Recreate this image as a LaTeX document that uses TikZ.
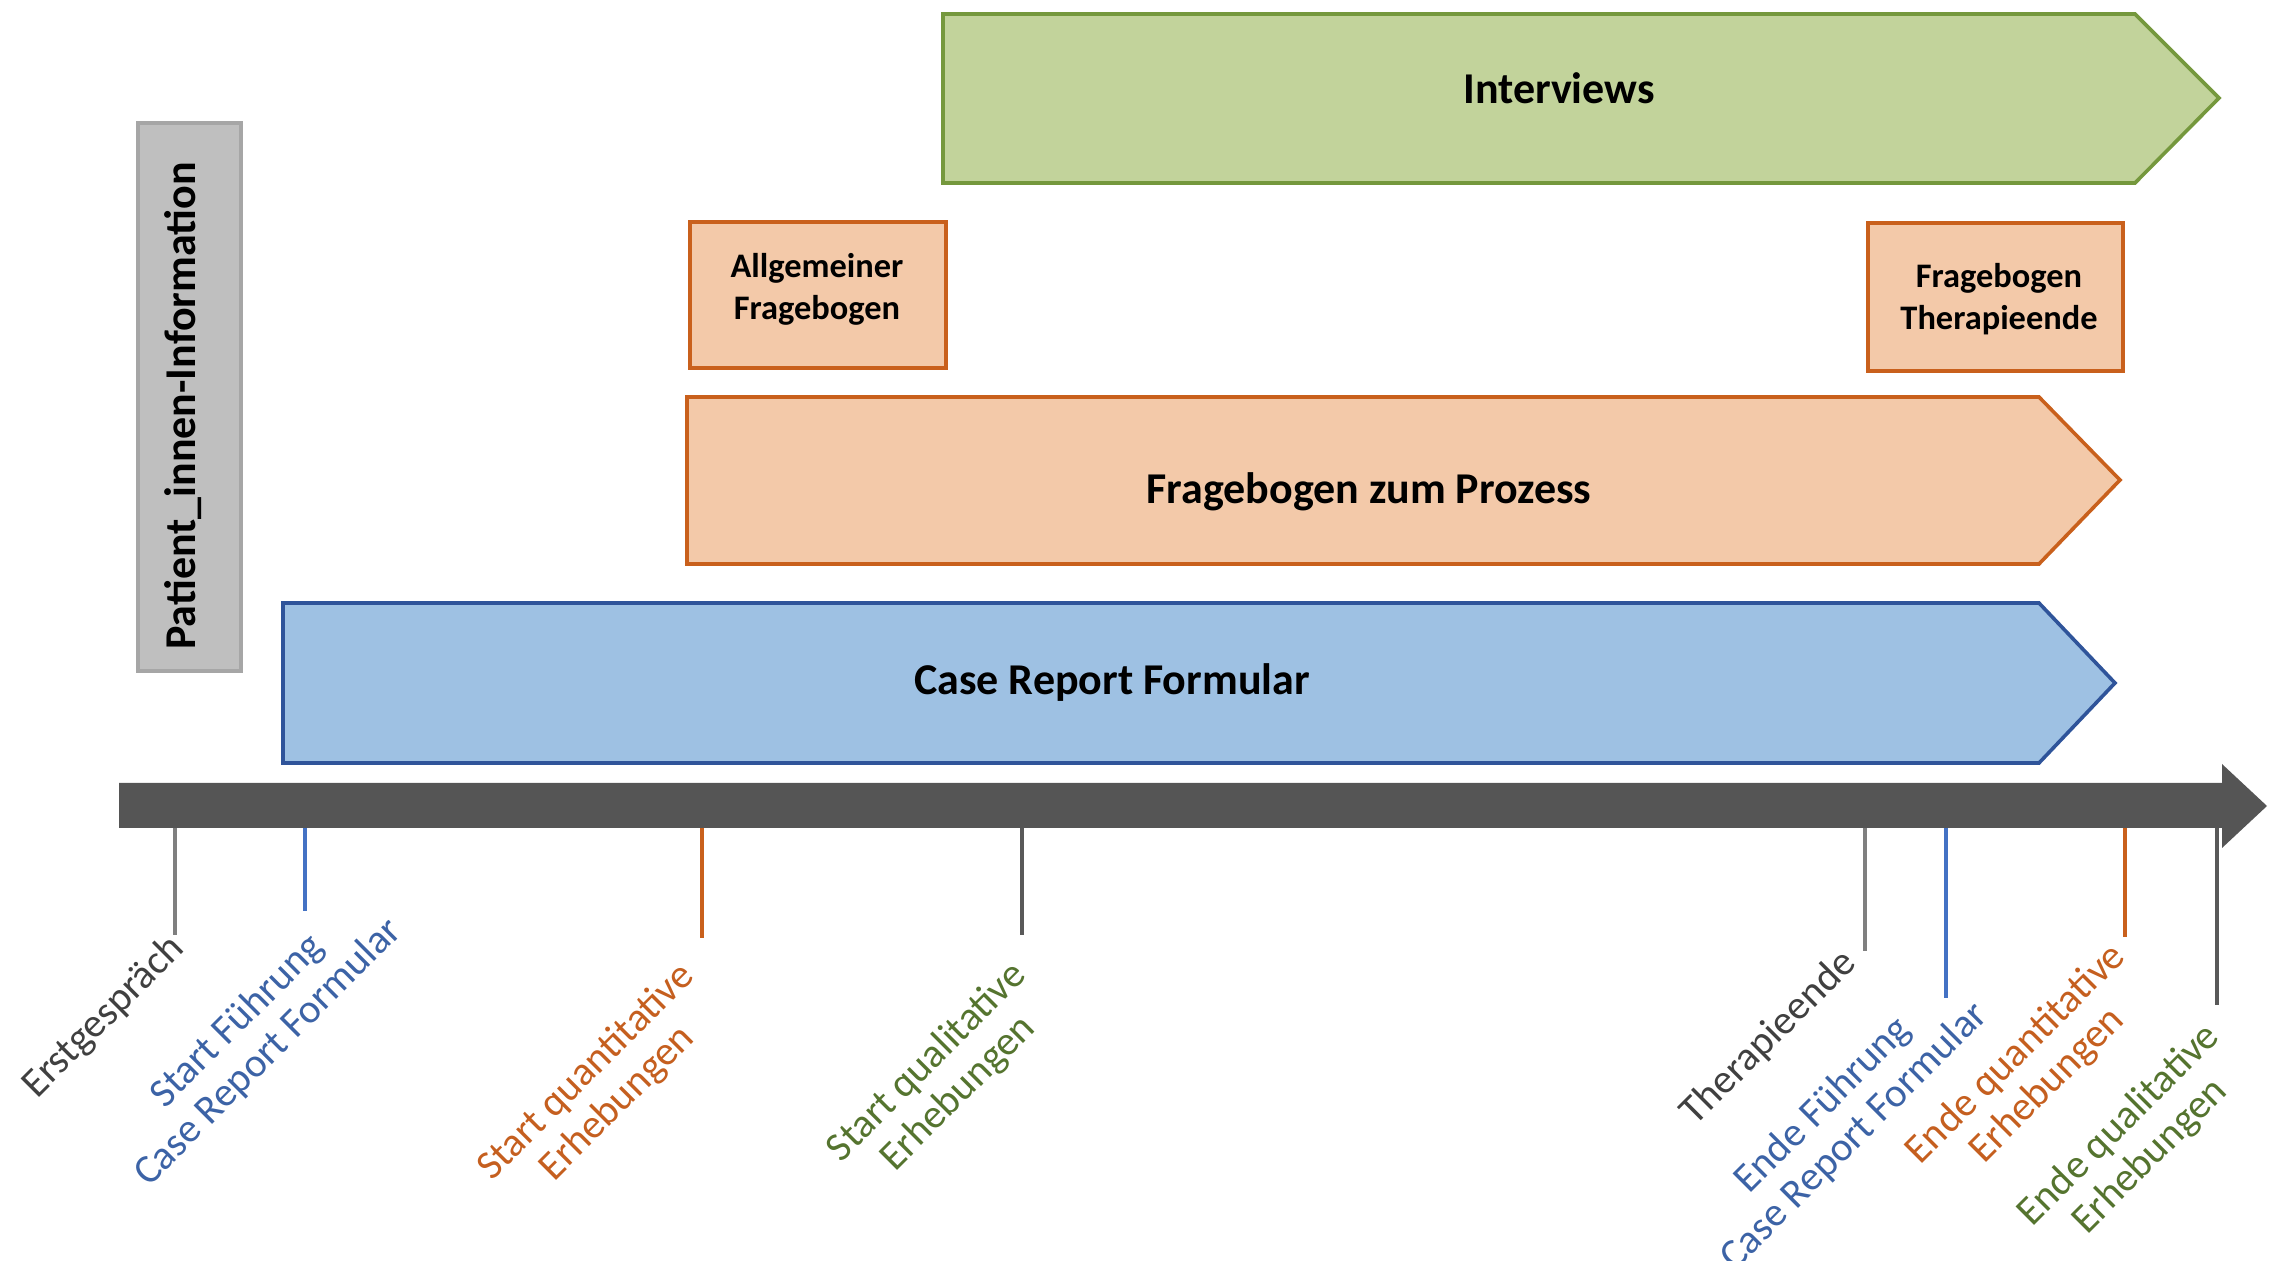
\documentclass[tikz,border=0pt]{standalone}
\usepackage{fontspec}
\setmainfont{Carlito}
\usetikzlibrary{positioning}

\definecolor{greenfill}{HTML}{C2D39B}
\definecolor{greenline}{HTML}{75983D}
\definecolor{orangefill}{HTML}{F3C9A9}
\definecolor{orangeline}{HTML}{C9601C}
\definecolor{bluefill}{HTML}{9EC1E3}
\definecolor{blueline}{HTML}{2F549A}
\definecolor{greyfill}{HTML}{BFBFBF}
\definecolor{greyline}{HTML}{A6A6A6}
\definecolor{axis}{HTML}{555555}
\definecolor{ticklight}{HTML}{7F7F7F}
\definecolor{tickdark}{HTML}{595959}
\definecolor{tickblue}{HTML}{4472C4}
\definecolor{txtgrey}{HTML}{404040}
\definecolor{txtblue}{HTML}{3C63A6}
\definecolor{txtorange}{HTML}{C55F1F}
\definecolor{txtgreen}{HTML}{55742F}

\begin{document}
\begin{tikzpicture}[x=0.25pt, y=-0.25pt,
    bar/.style={line width=0.9pt, line join=miter},
    title/.style={font=\bfseries\fontsize{11}{13}\selectfont, align=center, inner sep=0pt},
    boxtext/.style={font=\bfseries\fontsize{8.6}{10.5}\selectfont, align=center, inner sep=0pt},
    tick/.style={line width=1pt},
    milestone/.style={font=\fontsize{10.2}{11}\selectfont, align=center, rotate=45, inner sep=0pt}]
        \useasboundingbox (0,0) rectangle (2274,1261);

        % phases
        \draw[bar, draw=greenline, fill=greenfill] (943,14) -- (2135,14) -- (2219,98) -- (2135,183) -- (943,183) -- cycle;
        \node[title] (interviews) at (1559,88) {Interviews};

        \draw[bar, draw=orangeline, fill=orangefill] (690,222) rectangle (946,368);
        \node[boxtext] (allgemein) at (817,289) {Allgemeiner\\Fragebogen};

        \draw[bar, draw=orangeline, fill=orangefill] (1868,223) rectangle (2123,371);
        \node[boxtext] (tende) at (1999,299) {Fragebogen\\Therapieende};

        \draw[bar, draw=orangeline, fill=orangefill] (687,397) -- (2039,397) -- (2120,480) -- (2039,564) -- (687,564) -- cycle;
        \node[title] (prozess) at (1369,492) {Fragebogen zum Prozess};

        \draw[bar, draw=blueline, fill=bluefill] (283,603) -- (2039,603) -- (2115,683) -- (2039,763) -- (283,763) -- cycle;
        \node[title] (crf) at (1112,683) {Case Report Formular};

        \draw[bar, draw=greyline, fill=greyfill] (138,123) rectangle (241,671);
        \node[title, rotate=90] (info) at (183,406) {Patient\_innen-Information};

        % time axis
        \fill[axis] (119,783) -- (2222,783) -- (2222,764) -- (2267,806) -- (2222,848) -- (2222,828) -- (119,828) -- cycle;

        \foreach \i/\x/\y/\c in {1/175/935/ticklight, 2/305/911/tickblue, 3/702/938/orangeline, 4/1022/935/tickdark,
                                  5/1865/951/ticklight, 6/1946/998/tickblue, 7/2125/937/orangeline, 8/2217/1005/tickdark} {
          \coordinate (top\i) at (\x,828);
          \coordinate (end\i) at (\x,\y);
          \draw[tick, \c] (top\i) -- (end\i);
        }

        % milestones
        \node[milestone, txtgrey] (erst) at (104,1017) {Erstgespräch};
        \node[milestone, txtblue] (crfstart) at (253,1037) {Start Führung\\Case Report Formular};
        \node[milestone, txtorange] (quantstart) at (602,1088) {Start quantitative\\Erhebungen};
        \node[milestone, txtgreen] (qualstart) at (943,1078) {Start qualitative\\Erhebungen};
        \node[milestone, txtgrey] (therapie) at (1769,1038) {Therapieende};
        \node[milestone, txtblue] (crfend) at (1839,1121) {Ende Führung\\Case Report Formular};
        \node[milestone, txtorange] (quantend) at (2032,1070) {Ende quantitative\\Erhebungen};
        \node[milestone, txtgreen] (qualend) at (2135,1141) {Ende qualitative\\Erhebungen};
\end{tikzpicture}
\end{document}
